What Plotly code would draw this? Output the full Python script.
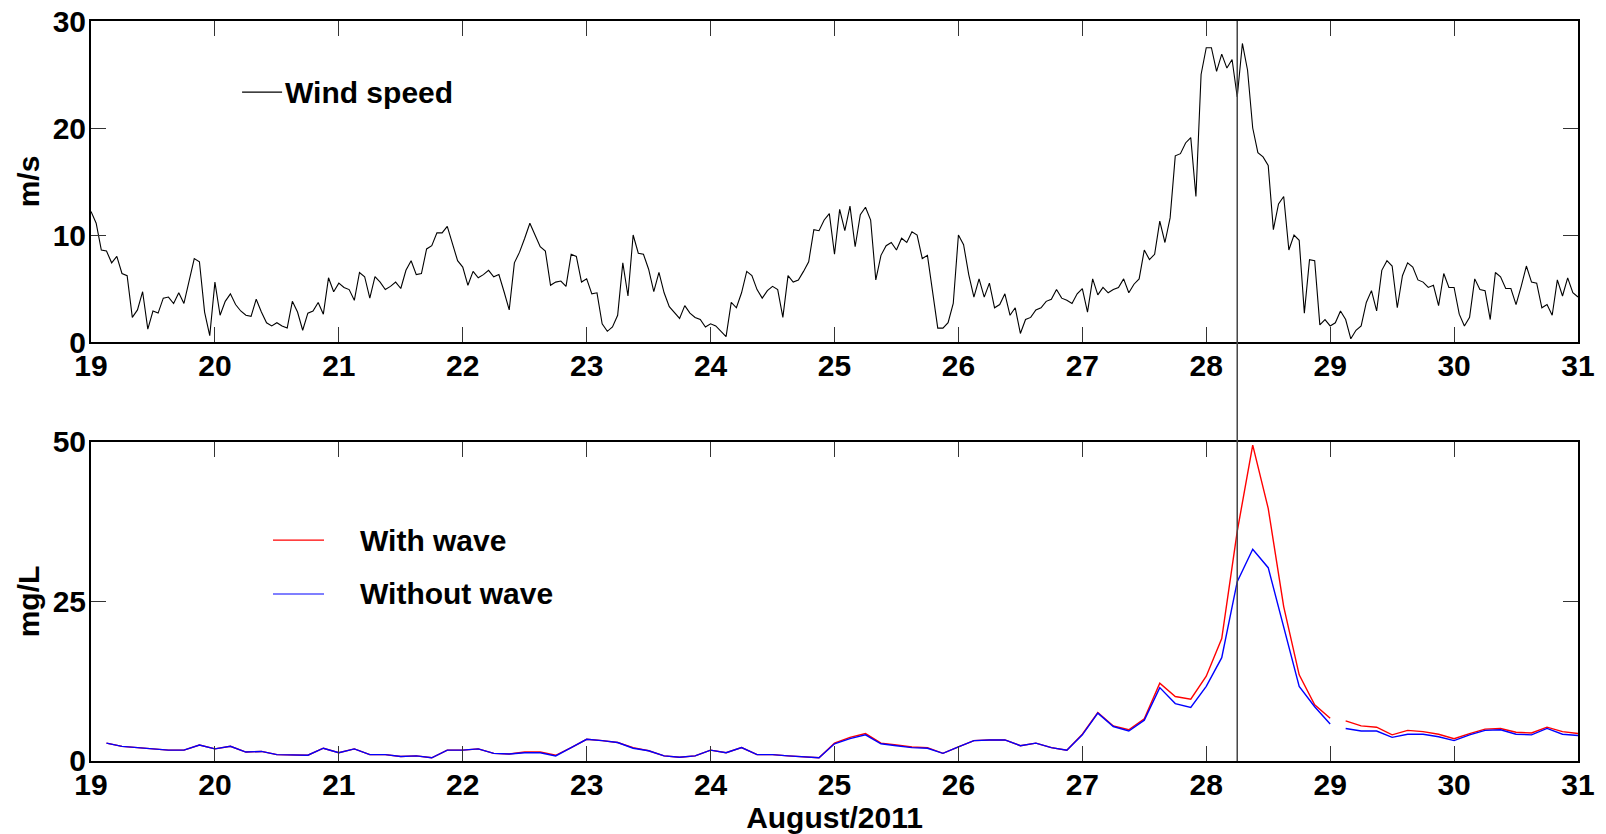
import numpy as np
import plotly.graph_objects as go
from plotly.subplots import make_subplots

# hourly wind speed (m/s), 19 Aug 00h .. 31 Aug 00h
wind_speed = [
    12.2, 11.1, 8.6, 8.5, 7.4, 8.0, 6.4, 6.2, 2.3, 3.0, 4.7, 1.2, 2.9, 2.7, 4.1, 4.2, 3.6, 4.6, 3.6, 5.8, 7.8, 7.5, 2.8, 0.6,
    5.6, 2.5, 3.8, 4.5, 3.5, 2.9, 2.5, 2.4, 4.0, 2.8, 1.8, 1.5, 1.8, 1.5, 1.3, 3.8, 2.8, 1.1, 2.7, 2.9, 3.7, 2.6, 6.0, 4.7,
    5.5, 5.1, 4.9, 3.9, 6.5, 6.1, 4.1, 6.1, 5.6, 4.9, 5.2, 5.6, 5.0, 6.7, 7.6, 6.3, 6.4, 8.7, 9.0, 10.2, 10.2, 10.8, 9.1, 7.6,
    7.0, 5.3, 6.6, 6.0, 6.3, 6.7, 6.1, 6.3, 4.7, 3.0, 7.4, 8.4, 9.7, 11.1, 10.0, 8.9, 8.5, 5.3, 5.6, 5.7, 5.2, 8.2, 8.0, 5.6,
    5.9, 4.5, 4.6, 1.7, 1.0, 1.4, 2.5, 7.4, 4.3, 10.0, 8.3, 8.2, 6.8, 4.7, 6.5, 4.6, 3.3, 2.7, 2.2, 3.4, 2.7, 2.3, 2.1, 1.4,
    1.7, 1.5, 1.0, 0.5, 3.7, 3.2, 4.6, 6.6, 6.2, 4.9, 4.1, 4.8, 5.2, 4.9, 2.3, 6.2, 5.6, 5.8, 6.6, 7.5, 10.5, 10.4, 11.4, 12.0,
    8.2, 12.4, 10.4, 12.7, 8.9, 11.9, 12.6, 11.4, 5.8, 8.1, 9.0, 9.3, 8.6, 9.7, 9.3, 10.3, 10.0, 7.8, 8.1, 4.6, 1.3, 1.3, 1.8, 3.6,
    10.0, 9.1, 6.3, 4.2, 5.9, 4.2, 5.5, 3.2, 3.5, 4.5, 2.5, 3.2, 0.8, 2.1, 2.3, 3.0, 3.2, 3.8, 4.0, 4.9, 4.1, 3.9, 3.6, 4.5,
    5.0, 2.8, 5.9, 4.4, 5.1, 4.6, 4.9, 5.1, 5.9, 4.6, 5.4, 5.9, 8.6, 7.7, 8.2, 11.3, 9.3, 11.6, 17.4, 17.6, 18.6, 19.1, 13.6, 25.0,
    27.5, 27.5, 25.3, 26.9, 25.6, 26.4, 22.9, 27.9, 25.4, 20.0, 17.7, 17.3, 16.5, 10.5, 12.9, 13.6, 8.6, 10.0, 9.5, 2.7, 7.7, 7.6, 1.6, 2.1,
    1.5, 1.8, 2.9, 2.1, 0.3, 1.1, 1.5, 3.7, 4.8, 2.9, 6.7, 7.6, 7.1, 3.2, 6.2, 7.4, 7.0, 5.8, 5.6, 5.1, 5.3, 3.4, 6.4, 5.1,
    5.1, 2.6, 1.5, 2.3, 5.9, 4.9, 4.8, 2.1, 6.5, 6.1, 5.0, 5.0, 3.5, 5.2, 7.1, 5.6, 5.5, 3.2, 3.5, 2.5, 5.8, 4.3, 6.0, 4.6,
    4.2,
]
wind_time = 19 + np.arange(len(wind_speed)) / 24

# 3-hourly sediment concentration (mg/L), 19.125 .. 31.0, break after 29.0
with_wave = [
    2.8, 2.3, 2.1, 1.9, 1.7, 1.7, 2.5, 1.9, 2.3, 1.4, 1.5, 1.0, 1.0, 0.9, 2.0, 1.3,
    1.9, 1.0, 1.0, 0.7, 0.8, 0.5, 1.7, 1.7, 1.9, 1.2, 1.1, 1.4, 1.4, 0.9, 2.1, 3.4,
    3.2, 2.9, 2.1, 1.6, 0.8, 0.6, 0.8, 1.7, 1.3, 2.1, 1.0, 1.0, 0.8, 0.7, 0.5, 2.8,
    3.7, 4.3, 2.8, 2.5, 2.2, 2.1, 1.2, 2.2, 3.2, 3.3, 3.3, 2.4, 2.8, 2.1, 1.7, 4.2,
    7.6, 5.5, 4.9, 6.6, 12.2, 10.1, 9.7, 13.3, 19.2, 36.0, 49.5, 39.6, 24.2, 13.5, 8.8, 6.7,
    6.3, 5.5, 5.3, 4.1, 4.8, 4.6, 4.2, 3.5, 4.3, 5.0, 5.1, 4.5, 4.4, 5.3, 4.6, 4.3,
]
without_wave = [
    2.8, 2.3, 2.1, 1.9, 1.7, 1.7, 2.5, 1.9, 2.3, 1.4, 1.5, 1.0, 1.0, 0.9, 2.0, 1.3,
    1.9, 1.0, 1.0, 0.7, 0.8, 0.5, 1.7, 1.7, 1.9, 1.2, 1.1, 1.3, 1.3, 0.8, 2.1, 3.4,
    3.2, 2.9, 2.0, 1.6, 0.8, 0.6, 0.8, 1.7, 1.3, 2.1, 1.0, 1.0, 0.8, 0.7, 0.5, 2.7,
    3.5, 4.1, 2.7, 2.4, 2.1, 2.0, 1.2, 2.2, 3.2, 3.3, 3.3, 2.4, 2.8, 2.1, 1.7, 4.1,
    7.5, 5.4, 4.7, 6.4, 11.5, 9.0, 8.4, 11.7, 16.2, 28.1, 33.2, 30.3, 21.1, 11.7, 8.5, 5.8,
    5.1, 4.7, 4.7, 3.7, 4.2, 4.2, 3.8, 3.2, 4.1, 4.8, 4.9, 4.2, 4.1, 5.1, 4.2, 4.0,
]
conc_time = list(19 + np.arange(1, len(with_wave) + 1) / 8)
gap_after = 80  # last 3-h step before the data break (29.0)
marker_day = 28.25

x_days = list(range(19, 32))


def with_break(vals):
    return vals[:gap_after] + [None] + vals[gap_after:]


conc_x = with_break(conc_time)

FONT = dict(family="Liberation Sans, Arial, sans-serif", size=30, color="black", weight="bold")

fig = make_subplots(rows=2, cols=1)

fig.add_trace(go.Scatter(x=wind_time, y=wind_speed, mode="lines",
                         line=dict(color="black", width=1.1), name="Wind speed",
                         showlegend=False), row=1, col=1)
fig.add_trace(go.Scatter(x=conc_x, y=with_break(with_wave), mode="lines",
                         line=dict(color="#ff0000", width=1.4), name="With wave",
                         showlegend=False), row=2, col=1)
fig.add_trace(go.Scatter(x=conc_x, y=with_break(without_wave), mode="lines",
                         line=dict(color="#0000ff", width=1.4), name="Without wave",
                         showlegend=False), row=2, col=1)

axis_style = dict(showline=True, linecolor="black", linewidth=2, mirror="ticks",
                  ticks="inside", ticklen=15, tickwidth=1, tickcolor="#333",
                  showgrid=False, zeroline=False, tickfont=FONT, automargin=False,
                  ticklabeloverflow="allow")

fig.update_xaxes(range=[19, 31], tickvals=x_days, ticklabelstandoff=-4, **axis_style)
fig.update_yaxes(ticklabelstandoff=-3, **axis_style)
fig.update_yaxes(range=[0, 30], tickvals=[0, 10, 20, 30], domain=[0.5662, 1.0],
                 title=dict(text="m/s", font=FONT, standoff=4), row=1, col=1)
fig.update_yaxes(range=[0, 50], tickvals=[0, 25, 50], domain=[0.0, 0.4311],
                 title=dict(text="mg/L", font=FONT, standoff=4), row=2, col=1)
fig.update_xaxes(title=dict(text="August/2011", font=FONT, standoff=3), row=2, col=1)

# event marker spanning both panels
fig.add_shape(type="line", xref="x", yref="paper", x0=marker_day, x1=marker_day,
              y0=0, y1=1, line=dict(color="#444", width=1.5))

# legends drawn by hand to match the original layout
legend_items = [
    ("Wind speed", "black", 0.1016, 0.1285, 0.1292, 0.904),
    ("With wave", "#ff0000", 0.1224, 0.1567, 0.1796, 0.2986),
    ("Without wave", "#0000ff", 0.1224, 0.1567, 0.1796, 0.2257),
]
for label, color, lx0, lx1, tx, ly in legend_items:
    fig.add_shape(type="line", xref="paper", yref="paper", x0=lx0, x1=lx1, y0=ly, y1=ly,
                  line=dict(color=color, width=1.2))
    fig.add_annotation(xref="paper", yref="paper", x=tx, y=ly, text=label,
                       showarrow=False, xanchor="left", yanchor="middle", font=FONT)

# the page body adds an 8px offset, so the figure is sized to fit the window
fig.update_layout(
    width=1598, height=826,
    margin=dict(l=83, r=28, t=13, b=73),
    plot_bgcolor="white", paper_bgcolor="white",
    font=FONT,
)

fig.write_html("out.html")
